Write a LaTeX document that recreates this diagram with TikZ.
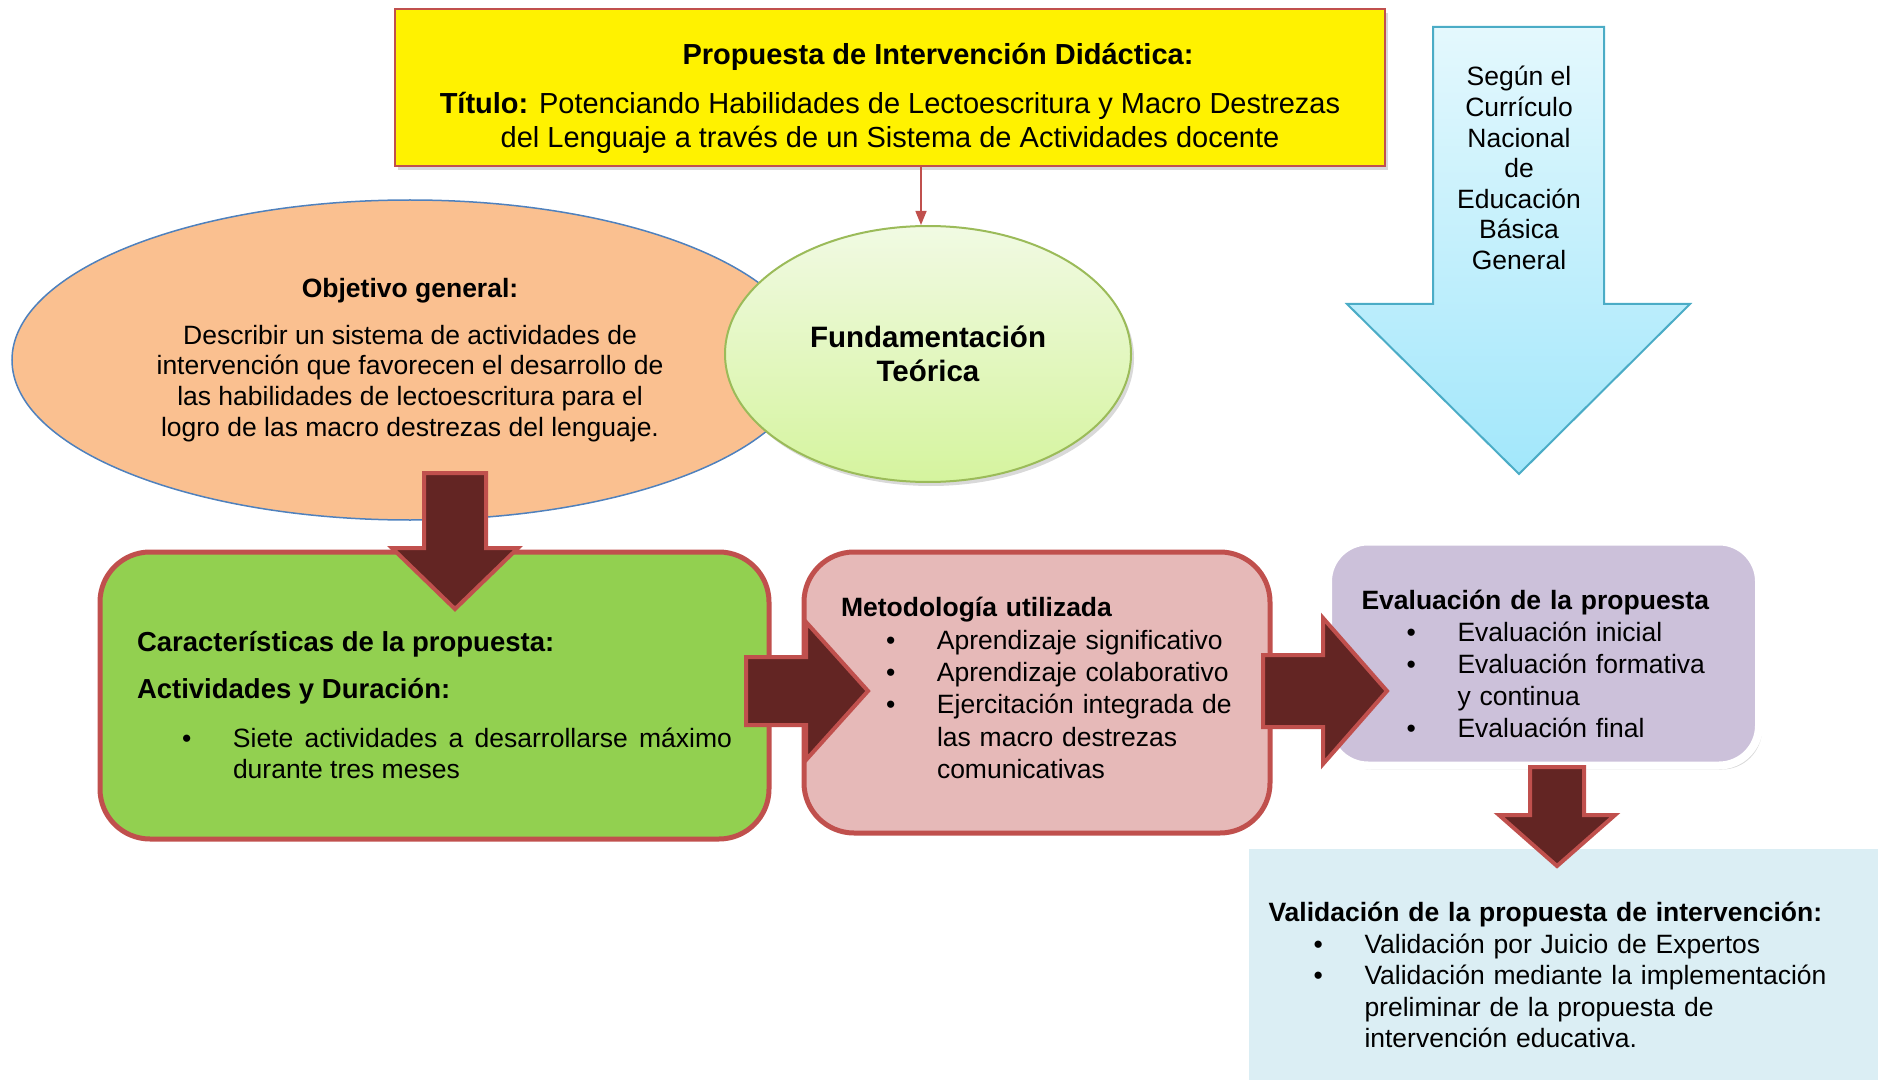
\documentclass[tikz,border=0pt]{standalone}
\usepackage{fontspec}
\setmainfont{Liberation Sans}
\usetikzlibrary{arrows.meta,shapes.geometric,shadows,positioning}

\definecolor{redline}{HTML}{C0504D}
\definecolor{darkarrow}{HTML}{632523}
\definecolor{objorange}{HTML}{FAC090}
\definecolor{objblue}{HTML}{4F81BD}
\definecolor{fundtop}{HTML}{F1FAE3}
\definecolor{fundbottom}{HTML}{D5F49E}
\definecolor{fundline}{HTML}{9BBB59}
\definecolor{currtop}{HTML}{E4F8FD}
\definecolor{currbottom}{HTML}{A2E7FB}
\definecolor{currline}{HTML}{4BACC6}
\definecolor{caracgreen}{HTML}{92D050}
\definecolor{metpink}{HTML}{E6B9B8}
\definecolor{evalpurple}{HTML}{CCC1DA}
\definecolor{validblue}{HTML}{DBEEF4}

\newcommand{\fsize}[2]{\fontsize{#1}{#2}\selectfont}
\newcommand{\bitem}{\par\noindent\hangindent=96pt\hangafter=1\makebox[96pt][l]{\hspace{45pt}\textbullet}}

\begin{document}
\begin{tikzpicture}[x=1pt,y=-1pt,
    softshadow/.style={drop shadow={opacity=0.3,shadow xshift=3pt,shadow yshift=-4pt}},
    blockarrow/.style={draw=redline,line width=4,fill=darkarrow,line join=miter},
    roundbox/.style={rounded corners=50,draw=redline,line width=5,font=\fsize{26.5}{31.5}}]
    \useasboundingbox (0,0) rectangle (1893,1083);

    % title box
    \node[draw=redline,line width=2,fill=yellow,softshadow,minimum width=990,minimum height=157,
          align=center,font=\fsize{29}{34}] (title) at (890,88)
      {\rule{0pt}{42pt}\hspace*{96pt}\textbf{Propuesta de Intervención Didáctica:}\\[15pt]
       \textbf{Título:} Potenciando Habilidades de Lectoescritura y Macro Destrezas\\
       del Lenguaje a través de un Sistema de Actividades docente};

    % ellipses
    \node[ellipse,draw=objblue,line width=1.5,fill=objorange,minimum width=796,minimum height=320,
          align=center,font=\fsize{26.5}{30.7}] (obj) at (410,360)
      {\textbf{Objetivo general:}\\[16pt]
       Describir un sistema de actividades de\\
       intervención que favorecen el desarrollo de\\
       las habilidades de lectoescritura para el\\
       logro de las macro destrezas del lenguaje.};
    \node[ellipse,draw=fundline,line width=2,top color=fundtop,bottom color=fundbottom,softshadow,
          minimum width=406,minimum height=256,align=center,font=\fsize{29.5}{34}\bfseries] (fund) at (928,354)
      {Fundamentación\\Teórica};
    \draw[redline,line width=1.5,-{Triangle[length=14pt,width=11pt]}] ([xshift=31pt]title.south) -- ([xshift=-7pt]fund.north);

    % curriculum arrow
    \draw[currline,line width=2,top color=currtop,bottom color=currbottom]
      (1433,27) -- (1604,27) -- (1604,304) -- (1690,304) -- (1519,474) -- (1347,304) -- (1433,304) -- cycle;
    \node[align=center,font=\fsize{26.5}{30.6}] (curr) at (1519,168)
      {Según el\\Currículo\\Nacional\\de\\Educación\\Básica\\General};

    % lower boxes
    \node[roundbox,fill=caracgreen,minimum width=669,minimum height=287,text width=595,align=justify] (carac) at (434.5,695.5)
      {\rule{0pt}{39pt}\textbf{\fsize{27.5}{33}Características de la propuesta:}\par\vspace{16pt}
       \noindent\textbf{\fsize{27.5}{33}Actividades y Duración:}\par\vspace{17pt}
       \bitem Siete actividades a desarrollarse máximo durante tres meses\par};
    \node[roundbox,fill=metpink,minimum width=466,minimum height=281,text width=392,align=left,
          font=\fsize{26.5}{32.3}] (met) at (1037,692.5)
      {\textbf{Metodología utilizada}
       \bitem Aprendizaje significativo
       \bitem Aprendizaje colaborativo
       \bitem Ejercitación integrada de\newline las macro destrezas\newline comunicativas\rule[-9pt]{0pt}{9pt}\par};
    \node[rounded corners=40,draw=white,line width=8,fill=evalpurple,softshadow,minimum width=431,minimum height=224,
          text width=364,align=left,font=\fsize{26.5}{32}] (eval) at (1543.5,653.5)
      {\rule{0pt}{40pt}\textbf{Evaluación de la propuesta}
       \bitem Evaluación inicial
       \bitem Evaluación formativa\newline y continua
       \bitem Evaluación final\par};
    \node[draw=white,line width=7,fill=validblue,softshadow,minimum width=636,minimum height=238,
          text width=590,align=left,font=\fsize{26.5}{31.5}] (valid) at (1563.5,964.5)
      {\rule{0pt}{41pt}\textbf{Validación de la propuesta de intervención:}
       \bitem Validación por Juicio de Expertos
       \bitem Validación mediante la implementación\newline preliminar de la propuesta de\newline intervención educativa.\par};

    % block arrows
    \coordinate (d0) at (455,473);
    \coordinate (r1) at (746,691);
    \coordinate (r2) at (1263,691);
    \coordinate (d3) at (1557,767);
    \draw[blockarrow,shift={(d0)}] (-31,0) -- (31,0) -- (31,75) -- (63,75) -- (0,136) -- (-63,75) -- (-31,75) -- cycle;
    \draw[blockarrow,shift={(r1)}] (0,-34) -- (60,-34) -- (60,-69) -- (122,0) -- (60,69) -- (60,34) -- (0,34) -- cycle;
    \draw[blockarrow,shift={(r2)}] (0,-36) -- (60,-36) -- (60,-73) -- (124,0) -- (60,73) -- (60,36) -- (0,36) -- cycle;
    \draw[blockarrow,shift={(d3)}] (-27,0) -- (27,0) -- (27,48) -- (58,48) -- (0,99) -- (-58,48) -- (-27,48) -- cycle;
\end{tikzpicture}
\end{document}
